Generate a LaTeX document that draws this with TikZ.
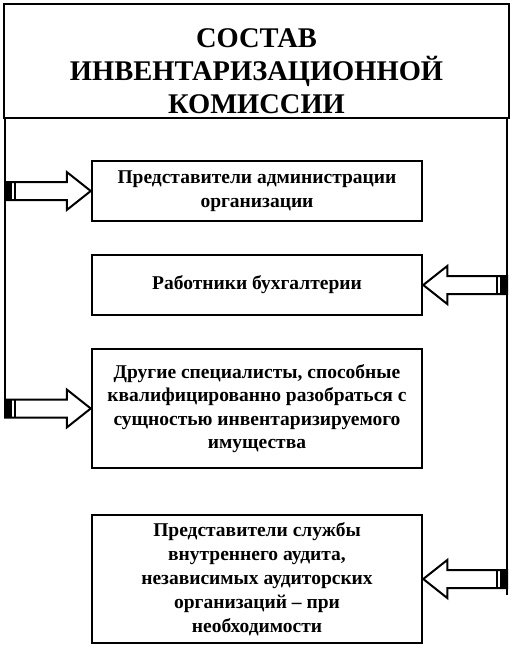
\documentclass[tikz,border=0pt]{standalone}
\usepackage{fontspec}
\setmainfont{Liberation Serif}
\usetikzlibrary{calc}
\tikzset{
  frame/.style={draw=black, line width=2.5pt, fill=white, align=center, inner sep=0pt,
    font=\fontsize{19.5}{23.5}\selectfont\bfseries},
  blk/.style={draw=black, line width=2pt, fill=white, line join=miter},
  rail/.style={draw=black, line width=2.8pt}
}
% #1 tail point on rail, #2 tip point on box, #3 direction (1 = right, -1 = left)
\newcommand\blockarr[3]{%
  \draw[blk] ($(#1)+(0,-9)$) -- ($(#2)+(-24*#3,-9)$) -- ($(#2)+(-24*#3,-19)$) -- (#2)
    -- ($(#2)+(-24*#3,19)$) -- ($(#2)+(-24*#3,9)$) -- ($(#1)+(0,9)$) -- cycle;
  \fill ($(#1)+(0,-9)$) rectangle ($(#1)+(7*#3,9)$);
  \fill ($(#1)+(9*#3,-9)$) rectangle ($(#1)+(11*#3,9)$);
}
\begin{document}
\begin{tikzpicture}[x=1pt,y=-1pt]
\useasboundingbox (0,0) rectangle (513,650);
\fill[white] (0,0) rectangle (513,650);

\node[frame, minimum width=505pt, minimum height=114pt] (title) at (256.5,61) {};
\node[align=center, inner sep=0pt, font=\fontsize{28.5}{33}\selectfont\bfseries] (titletext) at (256.5,71)
  {СОСТАВ\\ИНВЕНТАРИЗАЦИОННОЙ\\КОМИССИИ};

\node[frame, minimum width=330pt, minimum height=60pt] (b1) at (257,191)
  {Представители администрации\\организации};
\node[frame, minimum width=330pt, minimum height=60pt] (b2) at (257,285)
  {Работники бухгалтерии};
\node[frame, minimum width=330pt, minimum height=119pt] (b3) at (257,408.5)
  {Другие специалисты, способные\\квалифицированно разобраться с\\сущностью инвентаризируемого\\имущества};
\node[frame, minimum width=330pt, minimum height=128pt, font=\fontsize{19.5}{24}\selectfont\bfseries] (b4) at (257,579)
  {Представители службы\\внутреннего аудита,\\независимых аудиторских\\организаций -- при\\необходимости};

\coordinate (L) at (5,118);
\coordinate (R) at (507,118);
\coordinate (Lend) at (5,413);
\coordinate (Rend) at (507,595);

\draw[rail] (L) -- (Lend);
\draw[rail] (R) -- (Rend);

\blockarr{L |- b1.west}{b1.west}{1}
\blockarr{L |- b3.west}{b3.west}{1}
\blockarr{R |- b2.east}{b2.east}{-1}
\blockarr{R |- b4.east}{b4.east}{-1}
\end{tikzpicture}
\end{document}
